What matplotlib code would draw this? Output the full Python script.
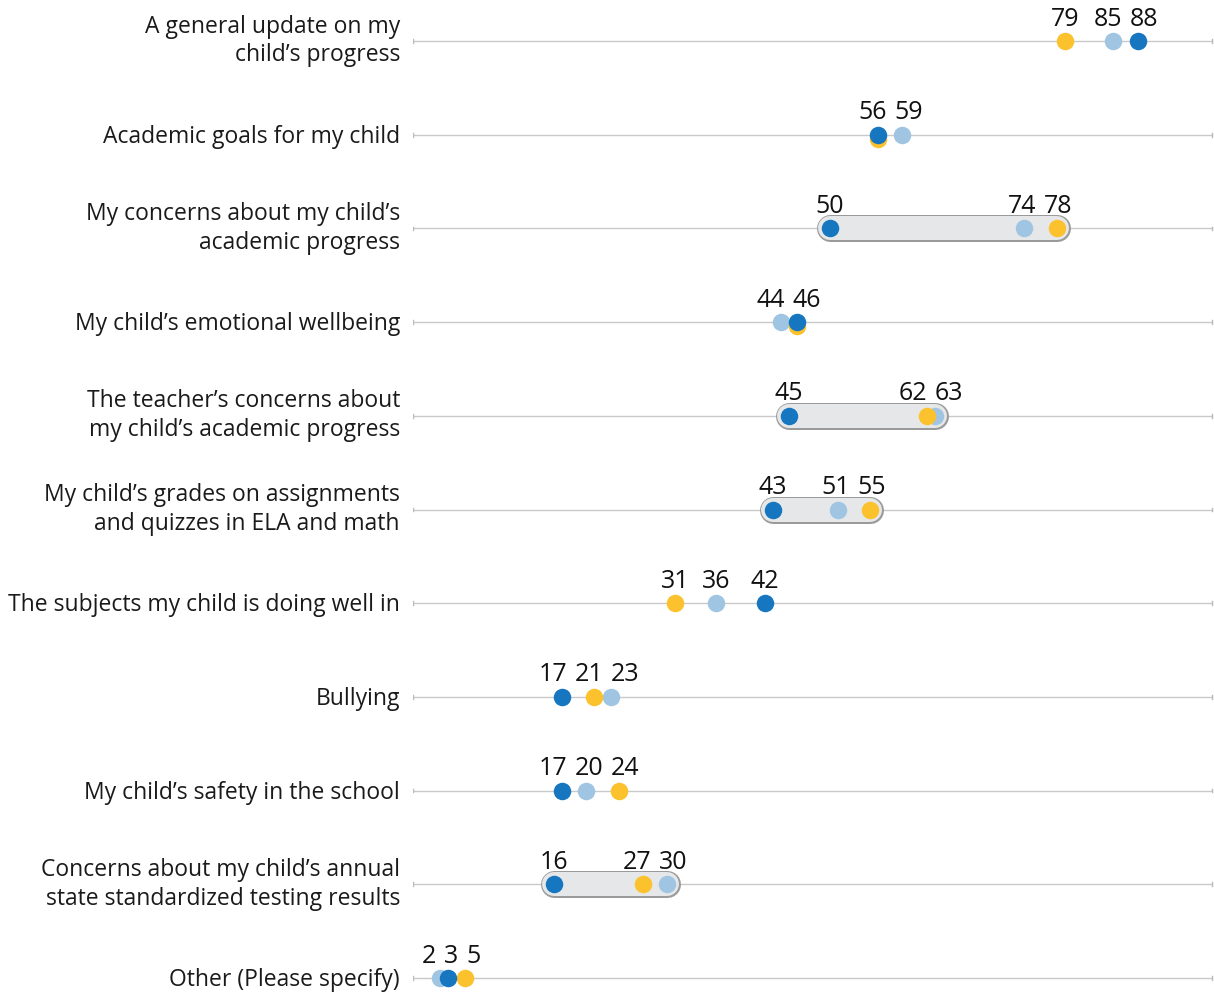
import numpy as np
import matplotlib.pyplot as plt

plt.rcParams['font.family'] = ['Open Sans', 'DejaVu Sans']

categories = [
    "A general update on my\nchild\u2019s progress",
    "Academic goals for my child",
    "My concerns about my child\u2019s\nacademic progress",
    "My child\u2019s emotional wellbeing",
    "The teacher\u2019s concerns about\nmy child\u2019s academic progress",
    "My child\u2019s grades on assignments\nand quizzes in ELA and math",
    "The subjects my child is doing well in",
    "Bullying",
    "My child\u2019s safety in the school",
    "Concerns about my child\u2019s annual\nstate standardized testing results",
    "Other (Please specify)",
]
dark = [88, 56, 50, 46, 45, 43, 42, 17, 17, 16, 3]
light = [85, 59, 74, 44, 63, 51, 36, 23, 20, 30, 2]
gold = [79, 56, 78, 46, 62, 55, 31, 21, 24, 27, 5]
highlight = [2, 4, 5, 9]

c_dark = "#1677c0"
c_light = "#a0c5e3"
c_gold = "#fcc22d"

fig = plt.figure(figsize=(12.14, 9.92), dpi=100)
ax = fig.add_axes([413 / 1214, 0, 801 / 1214, 1])
px = 8.11  # pixels per unit
x0 = -11 / px
x1 = (1214 - 424) / px
ax.set_xlim(x0, x1)
rowh = 93.7
ax.set_ylim((992 - 41) / rowh, -41 / rowh)
ax.axis('off')

n = len(categories)
for i in range(n):
    ax.plot([x0, x1 - 0.3], [i, i], color="#c9c9c9", lw=1, zorder=1)
    ax.plot([x0 + 0.05, x0 + 0.05], [i - 0.02, i + 0.02], color="#bbbbbb", lw=1)
    ax.plot([x1 - 0.3, x1 - 0.3], [i - 0.02, i + 0.02], color="#bbbbbb", lw=1)
    two = "\n" in categories[i]
    yoff = 41 if two else 43
    fig.text(400 / 1214, 1 - (yoff + rowh * i) / 992, categories[i], ha='right',
             va='center', fontsize=16.5, color="#1a1a1a", linespacing=1.27)

for i in highlight:
    lo = min(dark[i], light[i], gold[i])
    hi = max(dark[i], light[i], gold[i])
    ax.plot([lo, hi], [i, i], color="#9a9a9a", lw=27 * 0.72,
            solid_capstyle='round', zorder=2)
    ax.plot([lo, hi], [i, i], color="#e6e7e8", lw=24 * 0.72,
            solid_capstyle='round', zorder=2)

dy = 4 / rowh
gold_y = [i + (dy if gold[i] == dark[i] else 0) for i in range(n)]
ms = 17.5 * 0.72
ax.plot(light, range(n), 'o', color=c_light, ms=ms, mew=0, zorder=3)
ax.plot(gold, gold_y, 'o', color=c_gold, ms=ms, mew=0, zorder=4)
ax.plot(dark, range(n), 'o', color=c_dark, ms=ms, mew=0, zorder=5)


def spread(xs, widths):
    xs = list(xs)
    for _ in range(50):
        moved = False
        for k in range(len(xs) - 1):
            need = (widths[k] + widths[k + 1]) / 2 + 8
            gap = xs[k + 1] - xs[k]
            if gap < need:
                d = (need - gap) / 2
                xs[k] -= d
                xs[k + 1] += d
                moved = True
        if not moved:
            break
    return xs


for i in range(n):
    vals = sorted(set([dark[i], light[i], gold[i]]))
    xs = [v * px for v in vals]
    widths = [14 * len(str(v)) for v in vals]
    xs = spread(xs, widths)
    for v, xp in zip(vals, xs):
        ax.text(xp / px, i - 22 / rowh, str(v), ha='center', va='center',
                fontsize=18, color="#111111")

fig.savefig("out.png", dpi=100)
